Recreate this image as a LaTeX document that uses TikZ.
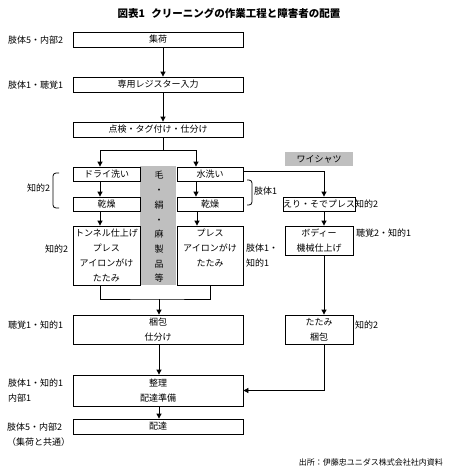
\documentclass[tikz,border=0pt]{standalone}
\usepackage{fontspec}
\setmainfont{Noto Sans CJK JP}
\usetikzlibrary{arrows.meta}
\begin{document}
\begin{tikzpicture}[x=1pt,y=-1pt,
  box/.style={draw, line width=0.8pt, inner sep=0pt, font=\fontsize{9}{15}\selectfont, align=center},
  txt/.style={inner sep=0pt, font=\fontsize{9}{15}\selectfont, align=center},
  lab/.style={inner sep=0pt, anchor=west, font=\fontsize{9}{15}\selectfont, align=left},
  conn/.style={line width=0.8pt},
  arr/.style={line width=0.8pt, -{Triangle[length=5pt,width=5pt]}},
  brk/.style={line width=0.8pt, rounded corners=3pt},
  graybg/.style={fill=black!25, draw=none, inner sep=0pt}
]
\useasboundingbox (0,0) rectangle (450,472);
\fill[white] (0,0) rectangle (450,472);

% title
\node[inner sep=0pt, font=\fontsize{10.5}{12}\selectfont\bfseries] (title) at (229,13) {図表1\hspace{0.6em}クリーニングの作業工程と障害者の配置};

% gray column
\node[graybg, minimum width=36pt, minimum height=119pt] (col) at (158,225.5) {};
\node[txt, font=\fontsize{9}{14.7}\selectfont] (coltxt) at (159,227) {毛\\・\\絹\\・\\麻\\製\\品\\等};

% main boxes
\node[box, minimum width=170pt, minimum height=15pt] (shuka) at (158,39.5) {集荷};
\node[box, minimum width=170pt, minimum height=15pt] (reg) at (158,84.5) {専用レジスター入力};
\node[box, minimum width=170pt, minimum height=15pt] (kenpin) at (158,129.5) {点検・タグ付け・仕分け};

\node[box, minimum width=67pt, minimum height=14pt] (dry) at (106.5,174) {ドライ洗い};
\node[box, minimum width=67pt, minimum height=14pt] (dry2) at (106.5,204) {乾燥};
\node[box, minimum width=67pt, minimum height=59pt] (finL) at (106.5,255.5) {トンネル仕上げ\\プレス\\アイロンがけ\\たたみ};

\node[box, minimum width=66pt, minimum height=14pt] (water) at (210,174) {水洗い};
\node[box, minimum width=66pt, minimum height=14pt] (water2) at (210,204) {乾燥};
\node[box, minimum width=66pt, minimum height=59pt] (finR) at (210,255.5) {};
\node[txt] (finRtxt) at ([yshift=7.5pt]finR.center) {プレス\\アイロンがけ\\たたみ};

\node[graybg, minimum width=68pt, minimum height=14pt, font=\fontsize{9}{15}\selectfont] (shirt) at (319,159) {ワイシャツ};
\node[box, minimum width=68pt, minimum height=14pt] (eri) at (319,204) {えり・そでプレス};
\node[box, minimum width=68pt, minimum height=29pt] (body) at (319,240.5) {ボディー\\機械仕上げ};
\node[box, minimum width=68pt, minimum height=29pt] (tatami) at (319,329.5) {たたみ\\梱包};

\node[box, minimum width=170pt, minimum height=29pt] (konpo) at (158,329.5) {梱包\\仕分け};
\node[box, minimum width=170pt, minimum height=31pt] (seiri) at (158,390.5) {整理\\配達準備};
\node[box, minimum width=170pt, minimum height=15pt] (haitatsu) at (158,426.5) {配達};

% connectors
\draw[arr] ([xshift=5pt]shuka.south) -- ([xshift=5pt]reg.north);
\draw[arr] ([xshift=5pt]reg.south) -- ([xshift=5pt]kenpin.north);
\coordinate (split) at (163,150);
\draw[conn] ([xshift=5pt]kenpin.south) -- (split);
\draw[arr] (split) -| ([xshift=-6.5pt]dry.north);
\draw[arr] (split) -| ([xshift=-14pt]water.north);
\draw[arr] ([xshift=-6.5pt]dry.south) -- ([xshift=-6.5pt]dry2.north);
\draw[arr] ([xshift=-6.5pt]dry2.south) -- ([xshift=-6.5pt]finL.north);
\draw[arr] ([xshift=-14pt]water.south) -- ([xshift=-14pt]water2.north);
\draw[arr] ([xshift=-13pt]water2.south) -- ([xshift=-13pt]finR.north);
\coordinate (mj) at (159,299);
\draw[conn] ([xshift=-6.5pt]finL.south) |- (mj) -| (finR.south);
\draw[arr] (mj) -- ([xshift=1pt]konpo.north);
\draw[arr] ([xshift=1pt]konpo.south) -- ([xshift=1pt]seiri.north);
\draw[arr] ([xshift=1pt]seiri.south) -- ([xshift=1pt]haitatsu.north);

\draw[arr] ([yshift=3pt]water.east) -| ([xshift=5pt]eri.north);
\draw[arr] ([xshift=5pt]eri.south) -- ([xshift=5pt]body.north);
\draw[arr] ([xshift=5pt]body.south) -- ([xshift=5pt]tatami.north);
\draw[arr] ([xshift=5pt]tatami.south) |- (seiri.east);

% brackets
\draw[brk] (59,173) -- (53,173) -- (53,208) -- (59,208);
\draw[brk] (247,180) -- (252,180) -- (252,205) -- (247,205);

% left labels
\node[lab] (l1) at (8,40) {肢体5・内部2};
\node[lab] (l2) at (8,85) {肢体1・聴覚1};
\node[lab] (l3) at (27,188) {知的2};
\node[lab] (l4) at (45,249) {知的2};
\node[lab] (l5) at (8,325) {聴覚1・知的1};
\node[lab, font=\fontsize{9}{15}\selectfont] (l6) at (8,390.5) {肢体1・知的1\\内部1};
\node[lab, font=\fontsize{9}{15}\selectfont] (l7) at (7,434.5) {肢体5・内部2\\（集荷と共通）};

% right labels
\node[lab] (r1) at (254,191) {肢体1};
\node[lab] (r2) at (246,256) {肢体1・\\知的1};
\node[lab] (r3) at (355,204) {知的2};
\node[lab] (r4) at (356,233) {聴覚2・知的1};
\node[lab] (r5) at (355,325) {知的2};

% source
\node[inner sep=0pt, anchor=east, font=\fontsize{8}{10}\selectfont] (src) at (443,462) {出所：伊藤忠ユニダス株式会社社内資料};
\end{tikzpicture}
\end{document}
